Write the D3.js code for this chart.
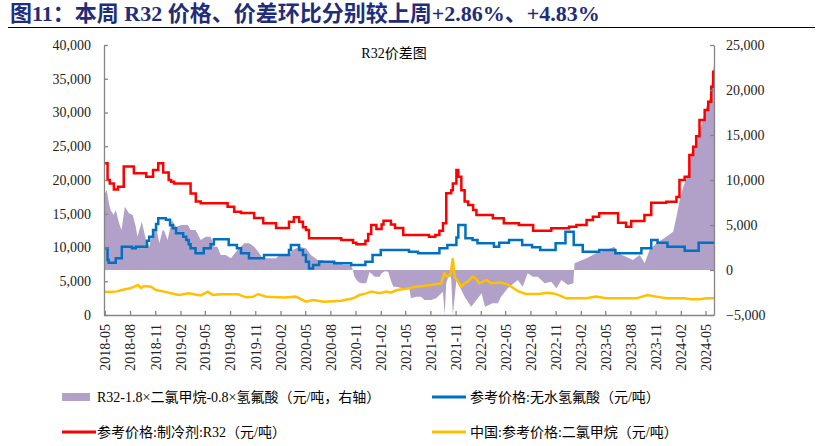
<!DOCTYPE html>
<html><head><meta charset="utf-8">
<script src="https://cdn.jsdelivr.net/npm/d3@7"></script>
<style>body{margin:0;background:#fff} svg{display:block}</style>
</head><body>
<svg id="c" width="823" height="446"></svg>
<script>
// ---------- data ----------
const titleText = "图11：本周 R32 价格、价差环比分别较上周+2.86%、+4.83%";
const chartTitle = "R32价差图";
const seriesNames = [
  "R32-1.8×二氯甲烷-0.8×氢氟酸（元/吨，右轴）",
  "参考价格:无水氢氟酸（元/吨）",
  "参考价格:制冷剂:R32（元/吨）",
  "中国:参考价格:二氯甲烷（元/吨）"
];
const xTickLabels = ["2018-05","2018-08","2018-11","2019-02","2019-05","2019-08","2019-11","2020-02","2020-05","2020-08","2020-11","2021-02","2021-05","2021-08","2021-11","2022-02","2022-05","2022-08","2022-11","2023-02","2023-05","2023-08","2023-11","2024-02","2024-05"];
const leftTicks = [0,5000,10000,15000,20000,25000,30000,35000,40000];
const rightTicks = [-5000,0,5000,10000,15000,20000,25000];

// R32 price (yuan/t), weekly steps
const r32Price = [["2018-05-01",22500],["2018-05-11",20000],["2018-05-19",19500],["2018-06-03",18600],["2018-06-18",19000],["2018-07-09",22000],["2018-08-15",21000],["2018-09-29",20500],["2018-10-24",21500],["2018-11-12",22470],["2018-11-30",21100],["2018-12-20",20000],["2018-12-29",19750],["2019-01-09",19500],["2019-03-10",18000],["2019-03-29",16800],["2019-04-16",16550],["2019-07-23",16050],["2019-08-16",15300],["2019-09-10",15100],["2019-10-28",14370],["2019-11-30",13600],["2020-01-16",12900],["2020-03-03",13830],["2020-03-21",14470],["2020-04-09",13800],["2020-04-23",13000],["2020-05-04",12600],["2020-05-15",11360],["2020-09-10",11100],["2020-10-23",10700],["2020-11-04",10500],["2020-12-07",11000],["2020-12-17",12000],["2020-12-28",13330],["2021-01-16",12740],["2021-02-04",13400],["2021-02-11",13970],["2021-03-10",13400],["2021-03-25",12900],["2021-04-24",11850],["2021-07-27",11600],["2021-08-19",11850],["2021-09-03",12500],["2021-09-16",13600],["2021-09-28",18030],["2021-10-16",18500],["2021-10-22",19500],["2021-11-04",21480],["2021-11-11",20500],["2021-11-22",18500],["2021-12-04",16800],["2021-12-17",16300],["2022-01-04",15550],["2022-01-16",14800],["2022-03-17",14330],["2022-04-26",13580],["2022-06-20",13330],["2022-08-11",12500],["2022-10-16",12840],["2022-12-20",13080],["2023-01-16",13330],["2023-02-22",14070],["2023-03-17",14570],["2023-04-09",15060],["2023-06-17",13680],["2023-07-16",13080],["2023-08-04",13920],["2023-09-21",14800],["2023-10-16",16640],["2023-12-10",16790],["2024-01-16",17500],["2024-01-27",20000],["2024-02-15",20490],["2024-03-03",23700],["2024-03-17",24930],["2024-03-28",26500],["2024-04-09",28890],["2024-04-28",30370],["2024-05-11",31600],["2024-05-22",33820],["2024-05-29",36040],["2024-06-01",36040]];

// anhydrous HF price (yuan/t)
const hfPrice = [["2018-05-01",9880],["2018-05-11",8150],["2018-05-15",7750],["2018-06-10",8400],["2018-07-02",10120],["2018-08-08",9880],["2018-08-22",10120],["2018-10-02",11000],["2018-10-10",11600],["2018-10-24",12600],["2018-11-04",13500],["2018-11-12",14330],["2018-12-10",14100],["2018-12-25",13300],["2019-01-04",12850],["2019-01-16",12100],["2019-02-11",11600],["2019-02-22",11100],["2019-03-03",10500],["2019-03-10",9880],["2019-03-28",9140],["2019-04-27",9880],["2019-05-22",10500],["2019-06-03",11210],["2019-07-27",10370],["2019-08-26",9900],["2019-09-10",9140],["2019-10-09",8400],["2019-12-03",8890],["2020-03-03",9630],["2020-03-10",10370],["2020-04-09",9630],["2020-04-23",8890],["2020-05-04",7900],["2020-05-15",6900],["2020-05-30",7410],["2020-06-21",7900],["2020-08-15",7650],["2020-10-16",7410],["2020-12-07",7900],["2021-01-02",8890],["2021-02-01",9630],["2021-05-15",9380],["2021-06-17",9140],["2021-09-03",9880],["2021-10-02",10370],["2021-11-04",11500],["2021-11-11",13330],["2021-12-07",11360],["2022-01-02",11110],["2022-01-20",10620],["2022-03-21",10120],["2022-04-09",10710],["2022-05-15",11110],["2022-07-02",10370],["2022-08-07",10020],["2022-09-06",9630],["2022-11-01",10620],["2022-12-07",12340],["2023-01-06",10370],["2023-02-08",9380],["2023-04-09",9630],["2023-06-07",9140],["2023-09-10",9880],["2023-10-16",11110],["2023-11-08",10710],["2023-12-14",10120],["2024-02-15",9530],["2024-04-06",10710],["2024-06-01",10710]];

// dichloromethane price (yuan/t)
const dcmPrice = [["2018-05-01",3460],["2018-05-22",3400],["2018-06-14",3500],["2018-07-02",3700],["2018-08-01",3950],["2018-08-30",4440],["2018-09-10",4000],["2018-09-21",4300],["2018-10-16",4200],["2018-11-04",3700],["2018-12-03",3460],["2018-12-29",3210],["2019-01-27",2960],["2019-03-03",3210],["2019-04-16",2910],["2019-05-12",3460],["2019-05-30",2960],["2019-06-28",3060],["2019-08-30",3060],["2019-09-28",2620],["2019-10-24",2700],["2019-11-12",3110],["2019-12-10",2720],["2020-02-15",2600],["2020-03-28",2720],["2020-05-04",1970],["2020-05-30",2220],["2020-07-09",1970],["2020-09-10",2120],["2020-10-23",2470],["2020-11-15",2960],["2020-12-10",3200],["2020-12-28",3460],["2021-01-27",3210],["2021-02-22",3460],["2021-03-10",3300],["2021-04-01",3700],["2021-05-15",3950],["2021-06-10",4200],["2021-07-05",4300],["2021-08-04",4440],["2021-09-10",4700],["2021-09-21",6170],["2021-10-02",5680],["2021-10-13",5900],["2021-10-22",8400],["2021-10-28",5680],["2021-11-10",4940],["2021-11-22",4200],["2021-12-03",4700],["2021-12-17",5000],["2022-01-02",5680],["2022-01-13",5400],["2022-01-27",4700],["2022-02-22",5190],["2022-03-10",4700],["2022-04-16",4800],["2022-05-11",4500],["2022-05-30",4000],["2022-06-20",3460],["2022-07-16",3110],["2022-08-30",3110],["2022-10-02",3300],["2022-10-24",3200],["2022-11-15",2900],["2022-12-10",2470],["2023-02-22",2470],["2023-03-28",2720],["2023-05-04",2470],["2023-08-22",2470],["2023-10-02",2960],["2023-11-04",2720],["2023-12-10",2470],["2024-02-11",2470],["2024-03-10",2320],["2024-04-09",2350],["2024-05-04",2470],["2024-06-01",2470]];

// spread R32-1.8*DCM-0.8*HF (yuan/t, right axis)
const spread = [["2018-05-01",8500],["2018-05-08",8890],["2018-05-16",7410],["2018-05-22",6670],["2018-06-02",6110],["2018-06-10",6670],["2018-06-22",5190],["2018-07-01",4440],["2018-07-13",7030],["2018-07-28",6300],["2018-08-11",6100],["2018-08-22",4810],["2018-08-28",3700],["2018-09-13",5370],["2018-09-28",3330],["2018-10-10",2590],["2018-10-22",4070],["2018-11-04",4810],["2018-11-16",2960],["2018-11-28",4440],["2018-12-04",4300],["2018-12-16",3330],["2019-01-01",5560],["2019-01-16",4810],["2019-02-04",5000],["2019-02-28",5000],["2019-03-10",4440],["2019-03-28",4440],["2019-04-16",3330],["2019-05-04",3700],["2019-05-22",3700],["2019-06-04",2590],["2019-06-16",2590],["2019-06-28",1670],["2019-07-16",1670],["2019-08-04",1300],["2019-08-28",2220],["2019-09-22",2960],["2019-10-10",2960],["2019-10-28",2590],["2019-11-16",1850],["2019-11-28",1300],["2020-01-16",1300],["2020-01-28",1670],["2020-03-04",1670],["2020-03-16",2220],["2020-04-10",2590],["2020-05-04",2410],["2020-05-22",1670],["2020-06-16",1110],["2020-07-04",1110],["2020-07-16",930],["2020-09-04",930],["2020-09-16",560],["2020-10-16",560],["2020-10-22",0],["2020-10-28",-740],["2020-11-10",-1300],["2020-11-22",-1480],["2020-12-10",-1480],["2020-12-22",-220],["2021-01-10",-740],["2021-01-28",-740],["2021-02-04",-370],["2021-02-16",-150],["2021-02-28",-200],["2021-03-10",-1200],["2021-03-19",-1850],["2021-03-28",-1850],["2021-04-22",-2040],["2021-05-16",-2040],["2021-05-22",-3150],["2021-06-10",-2960],["2021-06-28",-2960],["2021-07-10",-3330],["2021-08-04",-3330],["2021-08-22",-3150],["2021-09-16",-2410],["2021-09-22",-5000],["2021-09-28",-1480],["2021-10-10",-370],["2021-10-16",-1000],["2021-10-22",-5000],["2021-11-04",-1110],["2021-11-16",-1850],["2021-12-04",-2960],["2021-12-28",-4070],["2022-01-16",-3330],["2022-02-04",-2590],["2022-02-16",-4070],["2022-03-16",-3700],["2022-04-04",-3700],["2022-04-16",-2960],["2022-05-10",-2040],["2022-06-16",-1110],["2022-07-04",-1850],["2022-07-22",-370],["2022-08-10",-740],["2022-08-28",-740],["2022-09-22",-1480],["2022-10-16",-1300],["2022-11-04",-2040],["2022-11-22",-1110],["2022-12-16",-1670],["2023-01-05",-1480],["2023-01-09",740],["2023-02-22",1300],["2023-03-28",1850],["2023-05-04",2220],["2023-06-04",2590],["2023-06-16",1850],["2023-07-16",1480],["2023-08-10",1110],["2023-09-04",1670],["2023-09-22",740],["2023-10-10",2220],["2023-11-04",2960],["2023-12-10",3700],["2024-01-04",4260],["2024-01-16",5930],["2024-01-28",7780],["2024-02-10",9260],["2024-02-28",10740],["2024-03-10",12960],["2024-03-28",14070],["2024-04-10",15560],["2024-04-22",16670],["2024-05-04",18150],["2024-05-16",19070],["2024-05-28",21850],["2024-06-01",22780]];

// ---------- drawing ----------
const parse = d3.timeParse("%Y-%m-%d");
const FONT = "'Liberation Serif','Times New Roman','Noto Sans CJK SC',serif";
const svg = d3.select("#c");

const x = d3.scaleTime().domain([parse("2018-04-28"), parse("2024-06-01")]).range([104, 714]);
const yL = d3.scaleLinear().domain([0, 40000]).range([315, 45]);
const yR = d3.scaleLinear().domain([-5000, 25000]).range([315, 45]);

// title
svg.append("text").attr("x", 10).attr("y", 21)
  .attr("font-family", FONT).attr("font-size", 22).attr("font-weight", "bold")
  .attr("fill", "#1f2d7a").text(titleText);
svg.append("line").attr("x1", 8).attr("x2", 815).attr("y1", 27.5).attr("y2", 27.5)
  .attr("stroke", "#000").attr("stroke-width", 1.2);

// spread area
const area = d3.area().x(d => x(parse(d[0]))).y0(yR(0)).y1(d => yR(d[1]));
svg.append("path").datum(spread).attr("d", area).attr("fill", "#b1a0c7");

// lines
const stepLine = (yS) => d3.line().x(d => x(parse(d[0]))).y(d => yS(d[1])).curve(d3.curveStepAfter);
const linLine = (yS) => d3.line().x(d => x(parse(d[0]))).y(d => yS(d[1]));
svg.append("path").datum(dcmPrice).attr("d", linLine(yL)).attr("fill", "none").attr("stroke", "#ffc000").attr("stroke-width", 2.5);
svg.append("path").datum(hfPrice).attr("d", stepLine(yL)).attr("fill", "none").attr("stroke", "#0070c0").attr("stroke-width", 2.5);
svg.append("path").datum(r32Price).attr("d", stepLine(yL)).attr("fill", "none").attr("stroke", "#ff0000").attr("stroke-width", 2.5);

// axes
const axisColor = "#868686";
const fmt = d3.format(",");
const gL = svg.append("g").attr("transform", "translate(104,0)")
  .call(d3.axisLeft(yL).tickValues(leftTicks).tickSize(-4).tickSizeOuter(0).tickPadding(13).tickFormat(fmt));
const gR = svg.append("g").attr("transform", "translate(714,0)")
  .call(d3.axisRight(yR).tickValues(rightTicks).tickSize(-4).tickSizeOuter(0).tickPadding(12).tickFormat(fmt));
const xTickDates = xTickLabels.map(s => parse(s + "-01"));
const gB = svg.append("g").attr("transform", "translate(0,315)")
  .call(d3.axisBottom(x).tickValues(xTickDates).tickSize(-4).tickSizeOuter(0).tickFormat((d, i) => xTickLabels[i]));
gB.selectAll("text").attr("transform", "rotate(-90)").attr("text-anchor", "end")
  .attr("x", -9).attr("y", 0).attr("dy", "0.35em");
[gL, gR, gB].forEach(g => {
  g.selectAll("path,line").attr("stroke", axisColor).attr("stroke-width", 1.3);
  g.selectAll("text").attr("font-family", FONT).attr("font-size", 14).attr("fill", "#222");
});

// chart title
svg.append("text").attr("x", 394).attr("y", 58).attr("text-anchor", "middle")
  .attr("font-family", FONT).attr("font-size", 14).attr("fill", "#000").text(chartTitle);

// legend
const legendPos = [[62, 397, 97], [432, 397, 470], [62, 432, 97], [432, 432, 470]];
const legendKinds = ["rect", "line", "line", "line"];
const legendColors = ["#b1a0c7", "#0070c0", "#ff0000", "#ffc000"];
seriesNames.forEach((name, i) => {
  const [lx, ly, tx] = legendPos[i];
  if (legendKinds[i] === "rect") {
    svg.append("rect").attr("x", lx).attr("y", ly - 4).attr("width", 28).attr("height", 8).attr("fill", legendColors[i]);
  } else {
    svg.append("line").attr("x1", lx).attr("x2", lx + 34).attr("y1", ly).attr("y2", ly)
      .attr("stroke", legendColors[i]).attr("stroke-width", 3);
  }
  svg.append("text").attr("x", tx).attr("y", ly + 5).attr("font-family", FONT).attr("font-size", 14)
    .attr("fill", "#000").text(name);
});
</script>
</body></html>
